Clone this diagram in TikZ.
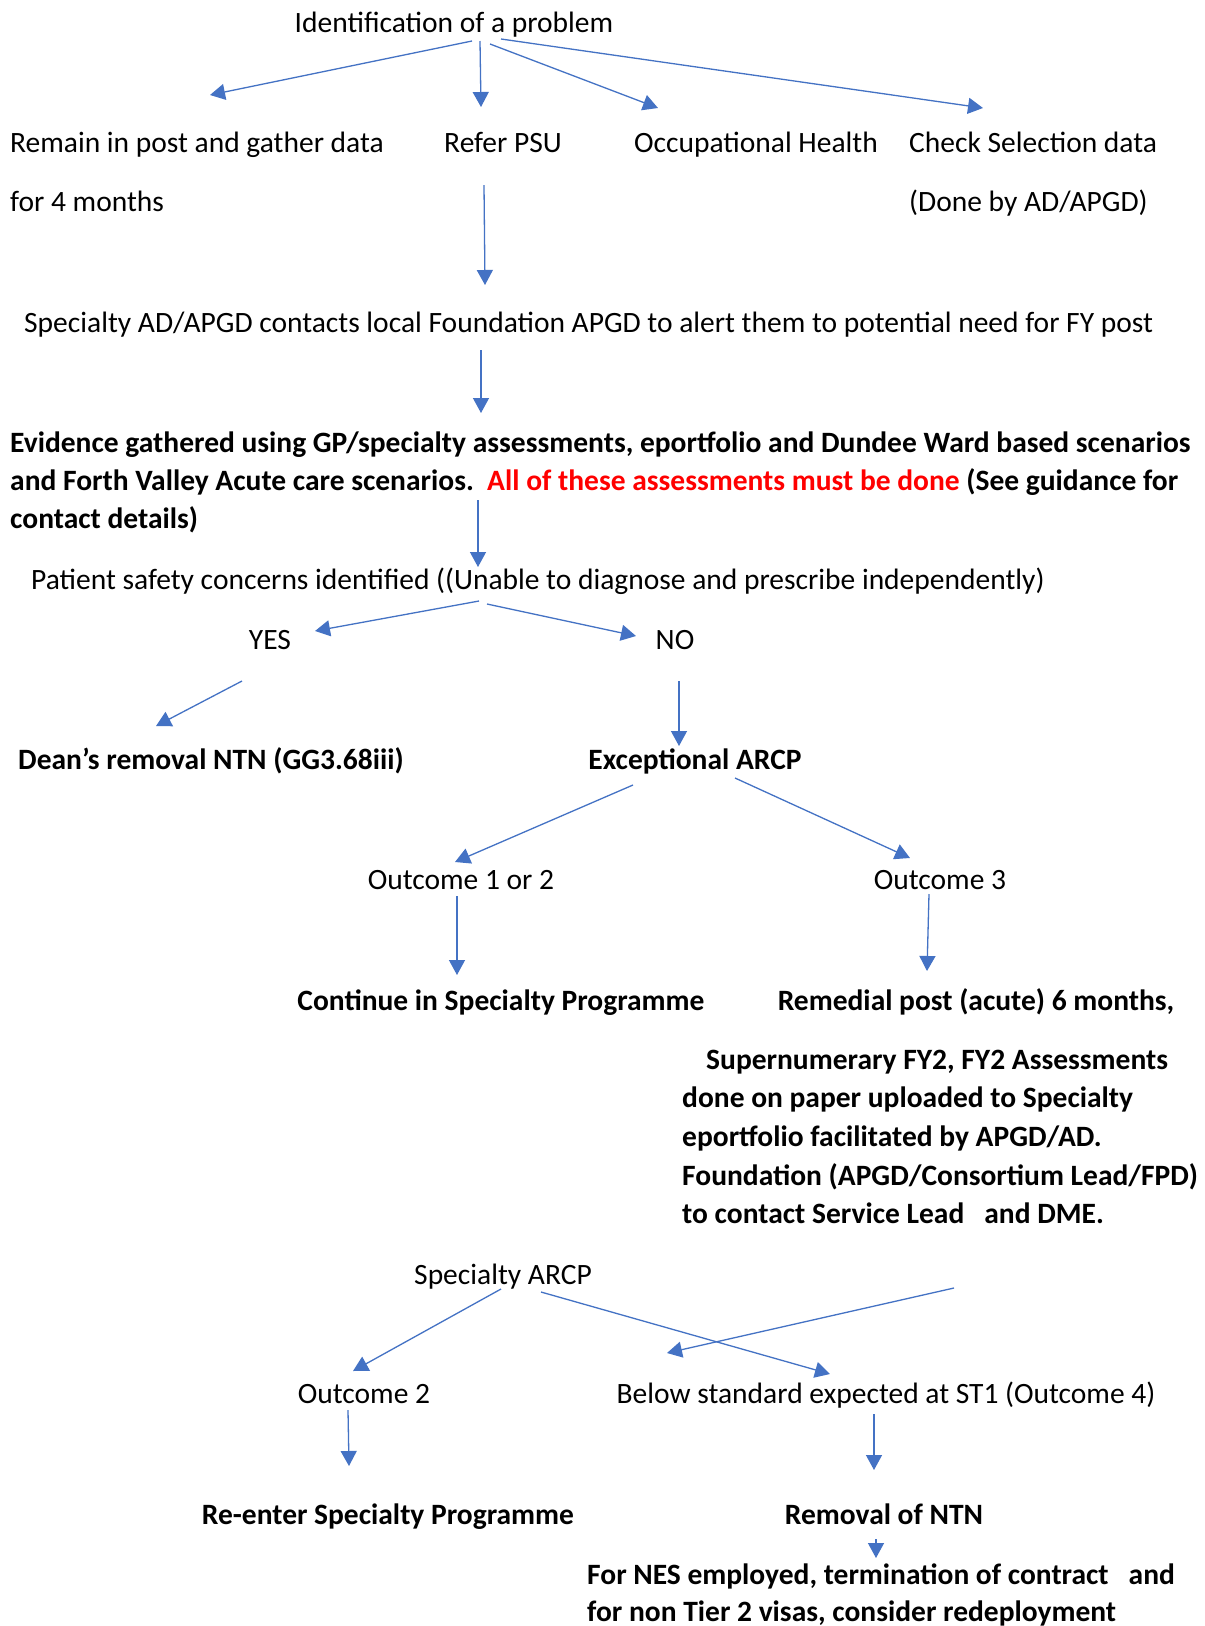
\documentclass[tikz,border=0pt]{standalone}
\usepackage{fontspec}
\setmainfont{Carlito}
\usetikzlibrary{arrows.meta}
\definecolor{arr}{HTML}{4472C4}
\newcommand\natsp{\spaceskip=0pt\xspaceskip=0pt\relax}
\begin{document}
\begin{tikzpicture}[x=1pt,y=-1pt,
  txt/.style={inner sep=0pt, font=\fontsize{29.5}{38}\selectfont},
  bld/.style={inner sep=0pt, font=\fontsize{29.5}{38}\selectfont\bfseries},
  conn/.style={draw=arr, line width=1.3pt, -{Triangle[length=15pt,width=16pt]}}]
\path[use as bounding box, fill=white] (0,0) rectangle (1205,1626);

% nodes
\node[txt, anchor=base] (ident) at (454,32) {Identification of a problem};
\node[txt, anchor=base west, text width=500pt, align=left] (remain) at (10,152) {\natsp Remain in post and gather data\\[21pt]for 4 months};
\node[txt, anchor=base] (psu) at (503,152) {Refer PSU};
\node[txt, anchor=base] (occ) at (756,152) {Occupational Health};
\node[txt, anchor=base west, text width=300pt, align=left] (check) at (909,152) {\natsp Check Selection data\\[21pt](Done by AD/APGD)};
\node[txt, anchor=base west] (alert) at (24,332) {Specialty AD/APGD contacts local Foundation APGD to alert them to potential need for FY post};
\node[bld, anchor=base west, text width=1250pt, align=left] (evid) at (10,452) {\natsp Evidence gathered using GP/specialty assessments, eportfolio and Dundee Ward based scenarios\\and Forth Valley Acute care scenarios.\ \ \textcolor{red}{All of these assessments must be done} (See guidance for\\contact details)};
\node[txt, anchor=base west] (safety) at (31,589) {Patient safety concerns identified ((Unable to diagnose and prescribe independently)};
\node[txt, anchor=base] (yes) at (270,649) {YES};
\node[txt, anchor=base] (no) at (675,649) {NO};
\node[bld, anchor=base west] (dean) at (18,769) {Dean’s removal NTN (GG3.68iii)};
\node[bld, anchor=base] (exarcp) at (695,769) {Exceptional ARCP};
\node[txt, anchor=base] (out12) at (461,889) {Outcome 1 or 2};
\node[txt, anchor=base] (out3) at (940,889) {Outcome 3};
\node[bld, anchor=base] (cont) at (501,1010) {Continue in Specialty Programme};
\node[bld, anchor=base] (remed) at (976,1010) {Remedial post (acute) 6 months,};
\node[bld, anchor=base west, text width=600pt, align=left, font=\fontsize{29.5}{38.7}\selectfont\bfseries] (remdet) at (682,1069) {\natsp\hspace*{24pt}Supernumerary FY2, FY2 Assessments\\done on paper uploaded to Specialty\\eportfolio facilitated by APGD/AD.\\Foundation (APGD/Consortium Lead/FPD)\\to contact Service Lead\ \ \ and DME.};
\node[txt, anchor=base] (sarcp) at (503,1284) {Specialty ARCP};
\node[txt, anchor=base] (out2) at (364,1403) {Outcome 2};
\node[txt, anchor=base] (below) at (886,1403) {Below standard expected at ST1 (Outcome 4)};
\node[bld, anchor=base] (reenter) at (388,1524) {Re-enter Specialty Programme};
\node[bld, anchor=base] (remntn) at (884,1524) {Removal of NTN};
\node[bld, anchor=base west, text width=700pt, align=left, font=\fontsize{29.5}{37}\selectfont\bfseries] (nes) at (587,1584) {\natsp For NES employed, termination of contract\ \ \ and\\for non Tier 2 visas, consider redeployment};

% connector end points
\coordinate (a1s) at (472,41);  \coordinate (a1e) at (210,95);
\coordinate (a2s) at (480,41);  \coordinate (a2e) at (481,107);
\coordinate (a3s) at (490,44);  \coordinate (a3e) at (658,108);
\coordinate (a4s) at (501,39);  \coordinate (a4e) at (983,108);
\coordinate (a5s) at (484,185); \coordinate (a5e) at (485,285);
\coordinate (a6s) at (481,350); \coordinate (a6e) at (481,413);
\coordinate (a7s) at (478,500); \coordinate (a7e) at (478,567);
\coordinate (a8s) at (479,601); \coordinate (a8e) at (315,631);
\coordinate (a9s) at (487,604); \coordinate (a9e) at (636,636);
\coordinate (a10s) at (242,681); \coordinate (a10e) at (156,726);
\coordinate (a11s) at (679,681); \coordinate (a11e) at (679,746);
\coordinate (a12s) at (633,785); \coordinate (a12e) at (455,862);
\coordinate (a13s) at (735,778); \coordinate (a13e) at (910,858);
\coordinate (a14s) at (457,896); \coordinate (a14e) at (457,975);
\coordinate (a15s) at (929,894); \coordinate (a15e) at (927,971);
\coordinate (a16s) at (501,1289); \coordinate (a16e) at (353,1371);
\coordinate (a17s) at (541,1292); \coordinate (a17e) at (830,1374);
\coordinate (a18s) at (954,1288); \coordinate (a18e) at (667,1353);
\coordinate (a19s) at (348,1410); \coordinate (a19e) at (349,1466);
\coordinate (a20s) at (874,1414); \coordinate (a20e) at (874,1470);
\coordinate (a21s) at (876,1539); \coordinate (a21e) at (876,1558);

% connectors
\draw[conn] (a1s) -- (a1e);
\draw[conn] (a2s) -- (a2e);
\draw[conn] (a3s) -- (a3e);
\draw[conn] (a4s) -- (a4e);
\draw[conn] (a5s) -- (a5e);
\draw[conn] (a6s) -- (a6e);
\draw[conn] (a7s) -- (a7e);
\draw[conn] (a8s) -- (a8e);
\draw[conn] (a9s) -- (a9e);
\draw[conn] (a10s) -- (a10e);
\draw[conn] (a11s) -- (a11e);
\draw[conn] (a12s) -- (a12e);
\draw[conn] (a13s) -- (a13e);
\draw[conn] (a14s) -- (a14e);
\draw[conn] (a15s) -- (a15e);
\draw[conn] (a16s) -- (a16e);
\draw[conn] (a17s) -- (a17e);
\draw[conn] (a18s) -- (a18e);
\draw[conn] (a19s) -- (a19e);
\draw[conn] (a20s) -- (a20e);
\draw[conn] (a21s) -- (a21e);
\end{tikzpicture}
\end{document}
